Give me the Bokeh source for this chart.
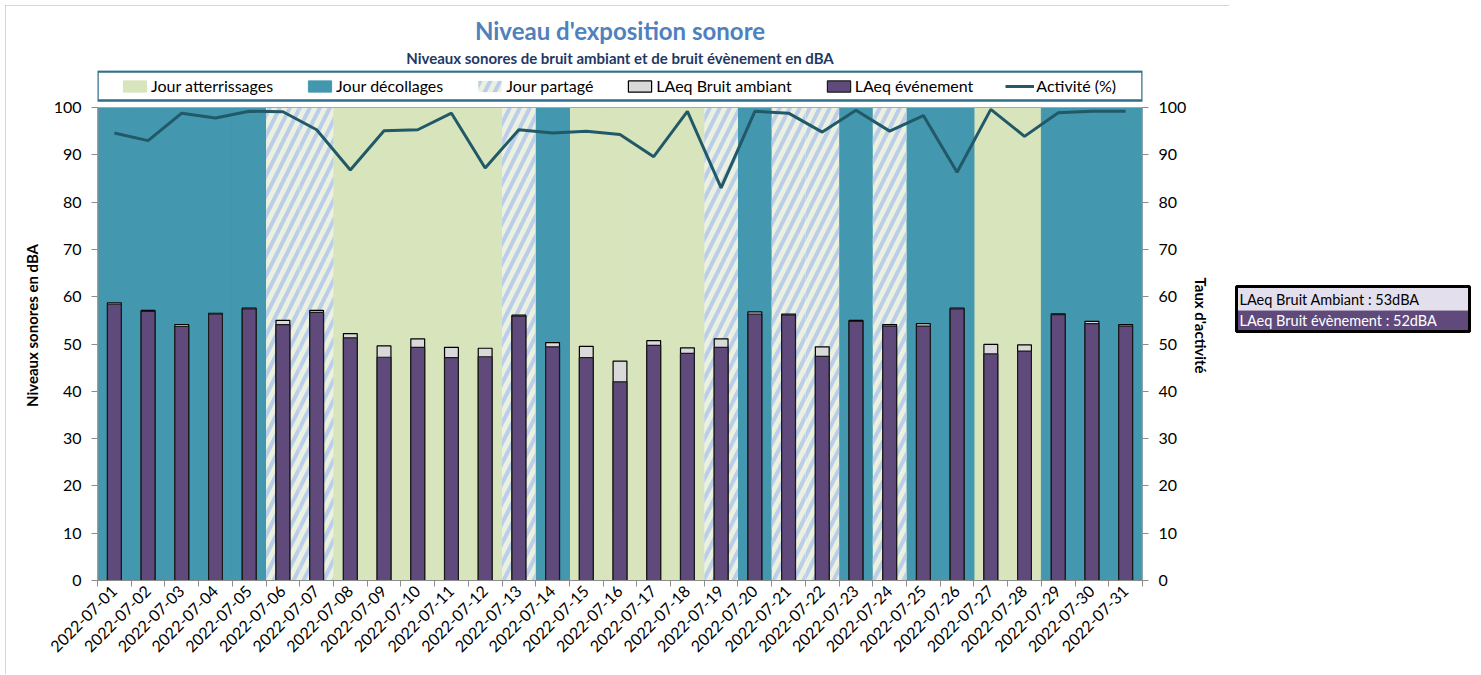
import math
from bokeh.plotting import figure
from bokeh.models import (ColumnDataSource, Range1d, LinearAxis, FixedTicker,
                          Legend, LegendItem, Title, Spacer)
from bokeh.layouts import row, column
from bokeh.embed import file_html
from bokeh.resources import INLINE
from bokeh.core.properties import value

FONT = "Lato"

dates = ["2022-07-01", "2022-07-02", "2022-07-03", "2022-07-04", "2022-07-05",
         "2022-07-06", "2022-07-07", "2022-07-08", "2022-07-09", "2022-07-10",
         "2022-07-11", "2022-07-12", "2022-07-13", "2022-07-14", "2022-07-15",
         "2022-07-16", "2022-07-17", "2022-07-18", "2022-07-19", "2022-07-20",
         "2022-07-21", "2022-07-22", "2022-07-23", "2022-07-24", "2022-07-25",
         "2022-07-26", "2022-07-27", "2022-07-28", "2022-07-29", "2022-07-30",
         "2022-07-31"]

# D = Jour décollages, A = Jour atterrissages, P = Jour partagé
day_type = ["D", "D", "D", "D", "D", "P", "P", "A", "A", "A",
            "A", "A", "P", "D", "A", "A", "A", "A", "P", "D",
            "P", "P", "D", "P", "D", "D", "A", "A", "D", "D", "D"]

laeq_ambiant = [58.7, 57.1, 54.1, 56.5, 57.6, 55.0, 57.1, 52.2, 49.6, 51.1,
                49.3, 49.1, 56.1, 50.3, 49.5, 46.4, 50.7, 49.2, 51.1, 56.8,
                56.3, 49.4, 55.0, 54.1, 54.3, 57.6, 49.9, 49.8, 56.4, 54.8, 54.1]

laeq_evenement = [58.4, 56.9, 53.7, 56.3, 57.4, 54.1, 56.7, 51.3, 47.2, 49.3,
                  47.1, 47.3, 55.9, 49.4, 47.1, 42.0, 49.7, 48.0, 49.3, 56.3,
                  56.1, 47.4, 54.8, 53.8, 53.8, 57.4, 47.9, 48.5, 56.2, 54.3, 53.8]

activite = [94.6, 93.0, 98.8, 97.8, 99.2, 99.1, 95.3, 86.8, 95.1, 95.3,
            98.8, 87.2, 95.3, 94.6, 95.0, 94.3, 89.6, 99.2, 83.0, 99.2,
            98.8, 94.8, 99.4, 95.0, 98.3, 86.3, 99.6, 93.9, 98.9, 99.2, 99.2]

y_ticks = [0, 10, 20, 30, 40, 50, 60, 70, 80, 90, 100]
summary_labels = ["LAeq Bruit Ambiant : 53dBA", "LAeq Bruit évènement : 52dBA"]

n = len(dates)
xs = list(range(n))

TEAL = "#4397AE"
GREEN = "#D8E4BC"
SHARED_BG = "#EBF1DE"
HATCH = "#BACEEA"
PURPLE = "#5F4A7B"
AMB = "#D9D9D9"
LINE = "#215968"
AXIS = "#8C8C8C"

# geometry (pixels, page coordinates)
OFF = 5
FRAME_TOP, PLOT_TOP, PLOT_BOTTOM = 70, 107, 580
PLOT_LEFT, PLOT_RIGHT = 97, 1142
FIG_W, FIG_H = 1224, 669
PX = (PLOT_BOTTOM - PLOT_TOP) / 100.0           # pixels per unit
YMAX = (PLOT_BOTTOM - FRAME_TOP) / PX
def y_of(py):
    return (PLOT_BOTTOM - py) / PX

p = figure(width=FIG_W, height=FIG_H, x_range=Range1d(-0.5, n - 0.5),
           y_range=Range1d(0, YMAX), output_backend="svg", toolbar_location=None,
           title=None, min_border_left=PLOT_LEFT - OFF,
           min_border_right=FIG_W - (PLOT_RIGHT - OFF),
           min_border_bottom=FIG_H - (PLOT_BOTTOM - OFF),
           min_border_top=FRAME_TOP - OFF)
p.extra_y_ranges = {"act": Range1d(0, YMAX)}
p.styles = {"outline": "2px solid #C8C8C8", "outline-offset": "-2px"}
p.grid.visible = False
p.outline_line_color = None
p.background_fill_color = "white"
p.border_fill_color = "white"

def bg_source(code):
    idx = [i for i, t in enumerate(day_type) if t == code]
    return ColumnDataSource(dict(x=[xs[i] for i in idx], top=[100] * len(idx)))

r_att = p.vbar(x="x", top="top", bottom=0, width=1.0, source=bg_source("A"),
               fill_color=GREEN, line_color=GREEN, line_width=1)
r_dec = p.vbar(x="x", top="top", bottom=0, width=1.0, source=bg_source("D"),
               fill_color=TEAL, line_color=TEAL, line_width=1)
r_par = p.vbar(x="x", top="top", bottom=0, width=1.0, source=bg_source("P"),
               fill_color=SHARED_BG, line_color=None, hatch_pattern="/",
               hatch_color=HATCH, hatch_weight=4, hatch_scale=20)

src = ColumnDataSource(dict(x=xs, amb=laeq_ambiant, evt=laeq_evenement, act=activite))
r_amb = p.vbar(x="x", top="amb", bottom=0, width=0.41, source=src,
               fill_color=AMB, line_color="black", line_width=1.2)
r_evt = p.vbar(x="x", top="evt", bottom=0, width=0.41, source=src,
               fill_color=PURPLE, line_color="#1A1A1A", line_width=1.2)
r_act = p.line(x="x", y="act", source=src, y_range_name="act",
               line_color=LINE, line_width=3)

# plot-area frame lines (top, left and right)
p.segment(x0=[-0.5], x1=[n - 0.5], y0=[100], y1=[100], line_color="#A6A6A6", line_width=1)
p.segment(x0=[-0.5, n - 0.5], x1=[-0.5, n - 0.5], y0=[0, 0], y1=[100, 100],
          line_color=AXIS, line_width=2)

# legend box
p.quad(left=[-0.5], right=[n - 0.5], bottom=[y_of(100)], top=[y_of(71)],
       fill_color="white", line_color="#31708A", line_width=2.5)

# x axis
xa = p.xaxis[0]
xa.ticker = FixedTicker(ticks=xs, minor_ticks=[i - 0.5 for i in range(n + 1)])
xa.major_label_overrides = {i: d for i, d in zip(xs, dates)}
xa.major_tick_out = 0
xa.major_tick_in = 0
xa.minor_tick_out = 6
xa.minor_tick_in = 0
xa.minor_tick_line_color = AXIS
xa.axis_line_color = AXIS
xa.major_label_orientation = math.pi / 4
xa.major_label_standoff = 2
xa.major_label_text_font = FONT
xa.major_label_text_font_size = "16px"
xa.major_label_text_color = "black"

def style_y(ax, label, standoff):
    ax.minor_tick_line_color = None
    ax.major_tick_out = 6
    ax.major_tick_in = 0
    ax.major_tick_line_color = AXIS
    ax.axis_line_color = None
    ax.major_label_standoff = 10
    ax.major_label_text_font = FONT
    ax.major_label_text_font_size = "16px"
    ax.major_label_text_color = "black"
    ax.axis_label = label
    ax.axis_label_text_font = FONT
    ax.axis_label_text_font_size = "15px"
    ax.axis_label_text_font_style = "bold"
    ax.axis_label_text_color = "black"
    ax.axis_label_standoff = standoff

ya = p.yaxis[0]
ya.ticker = FixedTicker(ticks=y_ticks)
style_y(ya, "Niveaux sonores en dBA", 10)

ra = LinearAxis(y_range_name="act", ticker=FixedTicker(ticks=y_ticks))
style_y(ra, "Taux d'activité", 3)
p.add_layout(ra, "right")

legend = Legend(items=[
    LegendItem(label="Jour atterrissages", renderers=[r_att]),
    LegendItem(label="Jour décollages", renderers=[r_dec]),
    LegendItem(label="Jour partagé", renderers=[r_par]),
    LegendItem(label="LAeq Bruit ambiant", renderers=[r_amb]),
    LegendItem(label="LAeq événement", renderers=[r_evt]),
    LegendItem(label="Activité (%)", renderers=[r_act]),
], orientation="horizontal", location=(23, 485))
legend.glyph_width = 29
legend.glyph_height = 14
legend.label_standoff = 2
legend.spacing = 32
legend.padding = 4
legend.margin = 0
legend.label_text_font = FONT
legend.label_text_font_size = "16px"
legend.label_text_color = "black"
legend.border_line_color = None
legend.background_fill_alpha = 0.0
p.add_layout(legend, "center")

sub = Title(text="Niveaux sonores de bruit ambiant et de bruit évènement en dBA",
            align="center", text_font=FONT, text_font_size="15px",
            text_font_style="bold", text_color="#1F3864", standoff=8)
p.add_layout(sub, "above")
main = Title(text="Niveau d'exposition sonore", align="center", text_font=FONT,
             text_font_size="24px", text_font_style="bold", text_color="#4F81BD",
             standoff=-5)
p.add_layout(main, "above")

# summary box (its frame is aligned with the chart's frame by the row layout)
Q_W = 1481 - OFF - FIG_W
Q_X0 = OFF + FIG_W
q = figure(width=Q_W, height=FIG_H, x_range=Range1d(0, Q_W), y_range=Range1d(0, YMAX),
           output_backend="svg", toolbar_location=None, min_border=0,
           x_axis_location=None, y_axis_location=None)
q.grid.visible = False
q.outline_line_color = None
q.background_fill_color = "white"
bl, br = 1236 - Q_X0, 1469 - Q_X0
q.quad(left=[bl], right=[br], top=[y_of(287)], bottom=[y_of(310)],
       fill_color="#E4DFEC", line_color=None)
q.quad(left=[bl], right=[br], top=[y_of(310)], bottom=[y_of(330)],
       fill_color="#604A7B", line_color=None)
q.quad(left=[bl], right=[br], top=[y_of(286)], bottom=[y_of(331)], fill_color=None,
       line_color="black", line_width=3)
q.text(x=[bl + 3, bl + 3], y=[y_of(298.5), y_of(320)], text=summary_labels,
       text_baseline="middle", text_color=["black", "white"],
       text_font=value(FONT), text_font_size="14.5px")

layout = column(Spacer(height=OFF), row(Spacer(width=OFF), p, q))
open("out.html", "w").write(file_html(layout, INLINE))
